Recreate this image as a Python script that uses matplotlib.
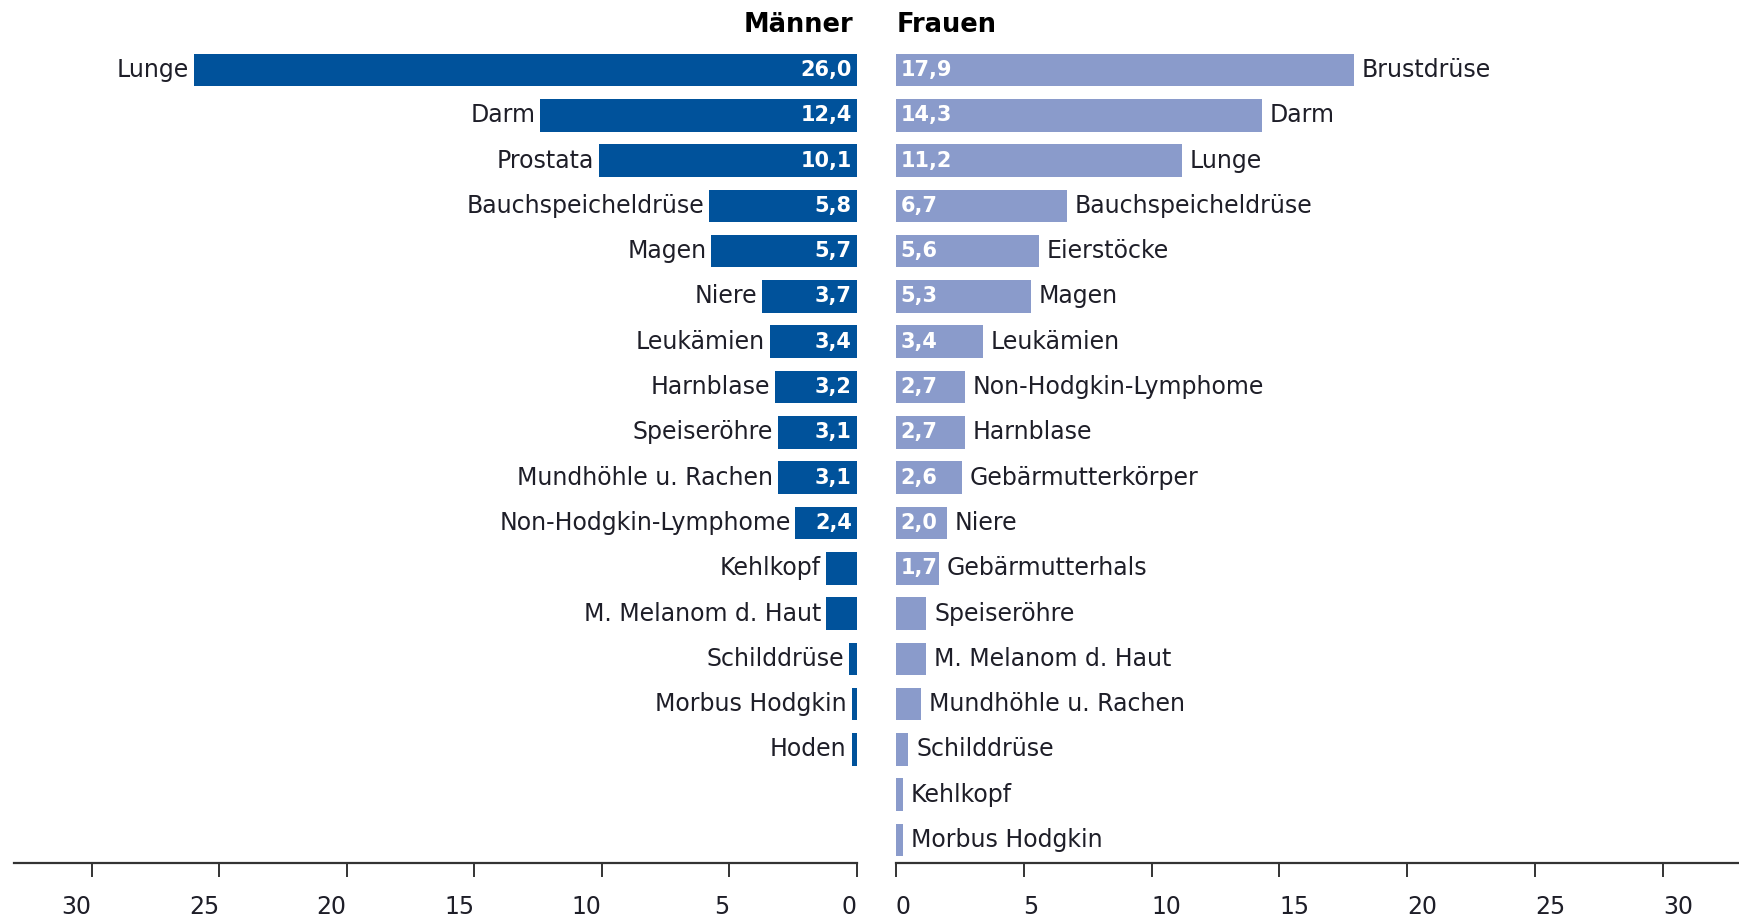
import matplotlib
matplotlib.use("Agg")
import matplotlib.pyplot as plt

# ---------------- data ----------------
men_labels = ["Lunge", "Darm", "Prostata", "Bauchspeicheldrüse", "Magen", "Niere",
              "Leukämien", "Harnblase", "Speiseröhre", "Mundhöhle u. Rachen",
              "Non-Hodgkin-Lymphome", "Kehlkopf", "M. Melanom d. Haut",
              "Schilddrüse", "Morbus Hodgkin", "Hoden"]
men_values = [26.0, 12.4, 10.1, 5.8, 5.7, 3.7, 3.4, 3.2, 3.1, 3.1, 2.4,
              1.2, 1.2, 0.3, 0.2, 0.2]
men_shown = ["26,0", "12,4", "10,1", "5,8", "5,7", "3,7", "3,4", "3,2", "3,1",
             "3,1", "2,4", "", "", "", "", ""]

women_labels = ["Brustdrüse", "Darm", "Lunge", "Bauchspeicheldrüse", "Eierstöcke",
                "Magen", "Leukämien", "Non-Hodgkin-Lymphome", "Harnblase",
                "Gebärmutterkörper", "Niere", "Gebärmutterhals", "Speiseröhre",
                "M. Melanom d. Haut", "Mundhöhle u. Rachen", "Schilddrüse",
                "Kehlkopf", "Morbus Hodgkin"]
women_values = [17.9, 14.3, 11.2, 6.7, 5.6, 5.3, 3.4, 2.7, 2.7, 2.6, 2.0, 1.7,
                1.2, 1.2, 1.0, 0.5, 0.3, 0.3]
women_shown = ["17,9", "14,3", "11,2", "6,7", "5,6", "5,3", "3,4", "2,7", "2,7",
               "2,6", "2,0", "1,7", "", "", "", "", "", ""]

tick_values = [0, 5, 10, 15, 20, 25, 30]
tick_labels = ["0", "5", "10", "15", "20", "25", "30"]

# ---------------- style ----------------
MEN_COLOR = "#00529B"
WOMEN_COLOR = "#8A9BCB"
TEXT_COLOR = "#1e1e28"
AXIS_COLOR = "#333333"
LABEL_FONT = ["DejaVu Sans"]
VALUE_FONT = ["Liberation Sans Narrow", "DejaVu Sans"]

W, H = 1740, 922
fig = plt.figure(figsize=(W / 100, H / 100), dpi=100)

bottom = (H - 862.7) / H
ax_l = fig.add_axes([14.3 / W, bottom, (856.7 - 14.3) / W, 1 - bottom])
ax_r = fig.add_axes([895.7 / W, bottom, (W - 895.7) / W, 1 - bottom])

ylim = (17.50, -1.545)
bar_h = 0.72

# Men (left)
ym = list(range(len(men_values)))
ax_l.barh(ym, men_values, height=bar_h, color=MEN_COLOR, edgecolor="none")
ax_l.set_xlim(33.03, 0)
ax_l.set_ylim(*ylim)
for y, v, lab, s in zip(ym, men_values, men_labels, men_shown):
    ax_l.annotate(lab, xy=(v, y), xytext=(-3.5, 0), textcoords="offset points",
                  ha="right", va="center", fontsize=17, color=TEXT_COLOR,
                  family=LABEL_FONT)
    if s:
        ax_l.annotate(s, xy=(0, y), xytext=(-3.5, 0), textcoords="offset points",
                      ha="right", va="center", fontsize=15, color="white",
                      fontweight="bold", family=VALUE_FONT)
ax_l.text(0.15, -1.0, "Männer", ha="right", va="center", fontsize=18.5,
          fontweight="bold", color="black", family=VALUE_FONT)

# Women (right)
yw = list(range(len(women_values)))
ax_r.barh(yw, women_values, height=bar_h, color=WOMEN_COLOR, edgecolor="none")
ax_r.set_xlim(0, 33.0)
ax_r.set_ylim(*ylim)
for y, v, lab, s in zip(yw, women_values, women_labels, women_shown):
    ax_r.annotate(lab, xy=(v, y), xytext=(5.5, 0), textcoords="offset points",
                  ha="left", va="center", fontsize=17, color=TEXT_COLOR,
                  family=LABEL_FONT)
    if s:
        ax_r.annotate(s, xy=(0, y), xytext=(3.5, 0), textcoords="offset points",
                      ha="left", va="center", fontsize=15, color="white",
                      fontweight="bold", family=VALUE_FONT)
ax_r.text(0.05, -1.0, "Frauen", ha="left", va="center", fontsize=18.5,
          fontweight="bold", color="black", family=VALUE_FONT)

for ax, align in ((ax_l, "right"), (ax_r, "left")):
    for side in ("top", "left", "right"):
        ax.spines[side].set_visible(False)
    ax.spines["bottom"].set_color(AXIS_COLOR)
    ax.spines["bottom"].set_linewidth(1.6)
    ax.set_yticks([])
    ax.set_xticks(tick_values)
    ax.set_xticklabels(tick_labels, family=LABEL_FONT, fontsize=17,
                       color=TEXT_COLOR, ha=align)
    ax.tick_params(axis="x", direction="out", length=10, width=1.4,
                   color=AXIS_COLOR, pad=13)
    ax.patch.set_alpha(0)

fig.savefig("out.png", dpi=100)
